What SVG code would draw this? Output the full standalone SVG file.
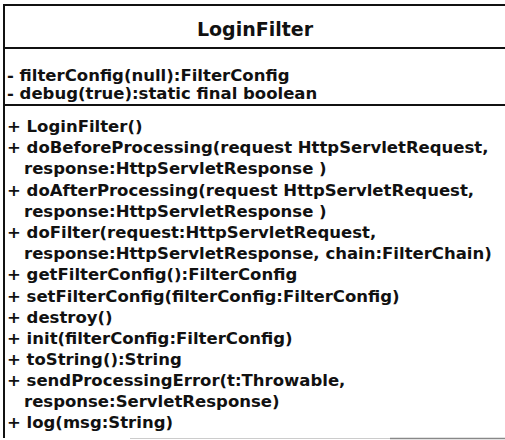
<svg xmlns="http://www.w3.org/2000/svg" width="505" height="440" viewBox="0 0 505 440">
  <style>
    .frame { fill: none; stroke: #111; stroke-width: 2; }
    .sep { stroke: #111; stroke-width: 2; }
    .title { font-family: "DejaVu Sans", Verdana, sans-serif; font-size: 19px; font-weight: bold; fill: #111; text-anchor: middle; }
    .member { font-family: "DejaVu Sans", Verdana, sans-serif; font-size: 16.5px; font-weight: bold; fill: #111; }
  </style>
  <rect width="505" height="440" fill="#fff"/>
  <g id="LoginFilter">
    <!-- class box: top, left side and compartment separators -->
    <path class="frame" d="M506,5 H4 V438"/>
    <line class="sep" x1="4" y1="48" x2="506" y2="48"/>
    <line class="sep" x1="4" y1="105" x2="506" y2="105"/>
    <line x1="130" y1="438.5" x2="390" y2="438.5" stroke="#ccc" stroke-width="1"/>
    <line x1="390" y1="438.5" x2="505" y2="438.5" stroke="#888" stroke-width="1.5"/>

    <text class="title" x="255" y="36">LoginFilter</text>

    <!-- attributes -->
    <text class="member" x="7" y="81">- filterConfig(null):FilterConfig</text>
    <text class="member" x="7" y="99">- debug(true):static final boolean</text>

    <!-- operations -->
    <text class="member" x="7" y="132">+ LoginFilter()</text>
    <text class="member" x="7" y="153">+ doBeforeProcessing(request HttpServletRequest,</text>
    <text class="member" x="24" y="174">response:HttpServletResponse )</text>
    <text class="member" x="7" y="196">+ doAfterProcessing(request HttpServletRequest,</text>
    <text class="member" x="24" y="217">response:HttpServletResponse )</text>
    <text class="member" x="7" y="238">+ doFilter(request:HttpServletRequest,</text>
    <text class="member" x="24" y="259">response:HttpServletResponse, chain:FilterChain)</text>
    <text class="member" x="7" y="280">+ getFilterConfig():FilterConfig</text>
    <text class="member" x="7" y="302">+ setFilterConfig(filterConfig:FilterConfig)</text>
    <text class="member" x="7" y="323">+ destroy()</text>
    <text class="member" x="7" y="344">+ init(filterConfig:FilterConfig)</text>
    <text class="member" x="7" y="365">+ toString():String</text>
    <text class="member" x="7" y="386">+ sendProcessingError(t:Throwable,</text>
    <text class="member" x="24" y="407">response:ServletResponse)</text>
    <text class="member" x="7" y="428">+ log(msg:String)</text>
  </g>
</svg>
